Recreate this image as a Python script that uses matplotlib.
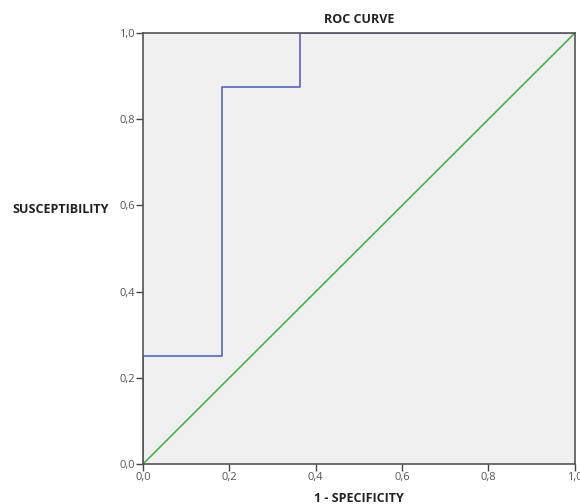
import numpy as np
import matplotlib.pyplot as plt

# ROC points (1 - specificity, sensitivity)
fpr = [0.0, 0.0, 2/11, 2/11, 4/11, 4/11, 1.0]
tpr = [0.0, 0.25, 0.25, 0.875, 0.875, 1.0, 1.0]
ref_line = [0.0, 1.0]
ticks = [0.0, 0.2, 0.4, 0.6, 0.8, 1.0]
tick_labels = ['0,0', '0,2', '0,4', '0,6', '0,8', '1,0']

plt.rcParams['font.family'] = ['Open Sans', 'DejaVu Sans']

fig = plt.figure(figsize=(5.8, 5.04), dpi=100)
ax = fig.add_axes([0.2466, 0.0794, 0.7445, 0.855])
ax.set_facecolor('#f0f0f0')

ax.plot(ref_line, ref_line, color='#4cb050', linewidth=1.2)
ax.step(fpr, tpr, where='post', color='#5468b8', linewidth=1.2)

ax.set_xlim(0, 1)
ax.set_ylim(0, 1)
ax.set_xticks(ticks)
ax.set_xticklabels(tick_labels)
ax.set_yticks(ticks)
ax.set_yticklabels(tick_labels)
ax.tick_params(direction='out', length=5, width=1, colors='#444444',
               labelsize=8, labelcolor='#555555', pad=1)

for s in ax.spines.values():
    s.set_color('#555555')
    s.set_linewidth(1.2)

ax.set_title('ROC CURVE', fontsize=9, fontweight='bold', color='#222222', pad=7)
ax.set_xlabel('1 - SPECIFICITY', fontsize=9, fontweight='bold', color='#222222', labelpad=6)
ax.set_ylabel('SUSCEPTIBILITY', fontsize=9, fontweight='bold', color='#222222',
              rotation=0, ha='right', va='center', labelpad=4)
ax.yaxis.set_label_coords(-0.08, 0.59)

fig.savefig('out.png', dpi=100)
